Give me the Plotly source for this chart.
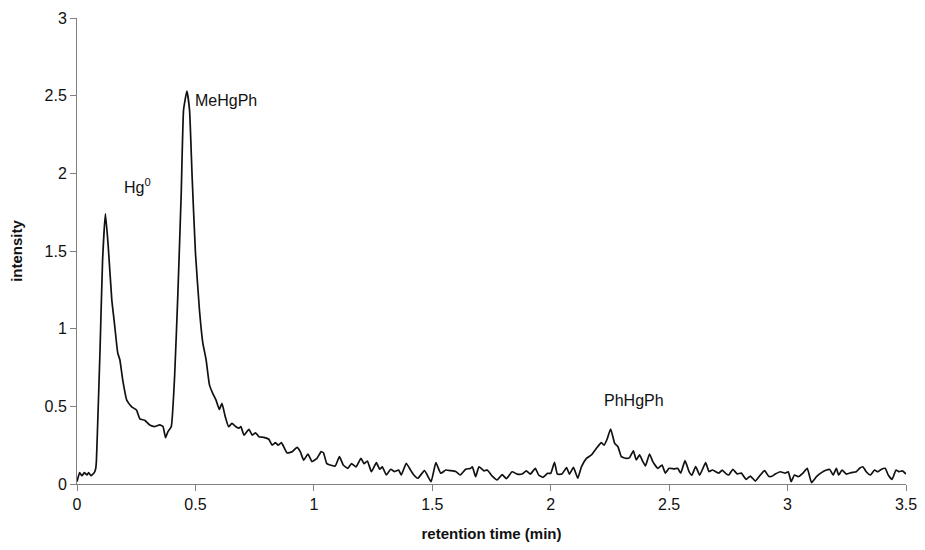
import plotly.graph_objects as go

retention_time = [
    0.000, 0.011, 0.021, 0.031, 0.042, 0.049, 0.059, 0.073, 0.079, 0.082, 0.088, 0.097, 0.108, 0.120,
    0.132, 0.147, 0.158, 0.172, 0.181, 0.193, 0.210, 0.231, 0.251, 0.265, 0.286, 0.307, 0.328, 0.349,
    0.363, 0.374, 0.384, 0.398, 0.412, 0.426, 0.440, 0.450, 0.464, 0.475, 0.486, 0.500, 0.517, 0.531,
    0.545, 0.559, 0.573, 0.587, 0.601, 0.612, 0.626, 0.640, 0.654, 0.671, 0.684, 0.692, 0.705, 0.726,
    0.740, 0.754, 0.768, 0.789, 0.810, 0.824, 0.838, 0.849, 0.863, 0.887, 0.908, 0.929, 0.943, 0.957,
    0.975, 0.992, 1.013, 1.031, 1.041, 1.054, 1.069, 1.090, 1.108, 1.124, 1.143, 1.159, 1.178, 1.199,
    1.212, 1.226, 1.243, 1.264, 1.278, 1.289, 1.306, 1.324, 1.341, 1.358, 1.369, 1.390, 1.408, 1.422,
    1.439, 1.467, 1.495, 1.515, 1.536, 1.557, 1.578, 1.599, 1.618, 1.641, 1.660, 1.669, 1.683, 1.697,
    1.718, 1.732, 1.753, 1.774, 1.795, 1.813, 1.837, 1.858, 1.879, 1.897, 1.914, 1.935, 1.949, 1.967,
    1.987, 2.000, 2.016, 2.028, 2.047, 2.067, 2.079, 2.096, 2.114, 2.130, 2.151, 2.172, 2.193, 2.214,
    2.225, 2.238, 2.253, 2.270, 2.284, 2.298, 2.319, 2.333, 2.349, 2.361, 2.375, 2.389, 2.400, 2.417,
    2.431, 2.452, 2.470, 2.484, 2.500, 2.521, 2.536, 2.549, 2.567, 2.584, 2.596, 2.612, 2.629, 2.654,
    2.668, 2.682, 2.696, 2.710, 2.724, 2.741, 2.752, 2.769, 2.787, 2.805, 2.825, 2.843, 2.864, 2.885,
    2.903, 2.920, 2.934, 2.948, 2.969, 2.990, 3.003, 3.015, 3.029, 3.045, 3.064, 3.083, 3.101, 3.122,
    3.143, 3.164, 3.178, 3.192, 3.206, 3.216, 3.230, 3.248, 3.269, 3.290, 3.304, 3.318, 3.332, 3.350,
    3.367, 3.381, 3.395, 3.412, 3.425, 3.441, 3.458, 3.471, 3.485, 3.500,
]

intensity = [
    0.015, 0.073, 0.053, 0.073, 0.058, 0.073, 0.053, 0.073, 0.100, 0.150, 0.420, 0.850, 1.440, 1.740,
    1.527, 1.184, 1.036, 0.843, 0.800, 0.670, 0.540, 0.497, 0.476, 0.420, 0.410, 0.380, 0.370, 0.380,
    0.370, 0.298, 0.337, 0.369, 0.690, 1.230, 1.870, 2.410, 2.530, 2.410, 1.980, 1.490, 1.120, 0.910,
    0.800, 0.640, 0.584, 0.540, 0.480, 0.519, 0.433, 0.369, 0.390, 0.369, 0.360, 0.369, 0.315, 0.352,
    0.315, 0.330, 0.304, 0.300, 0.288, 0.250, 0.266, 0.250, 0.266, 0.200, 0.207, 0.236, 0.207, 0.154,
    0.193, 0.144, 0.165, 0.208, 0.200, 0.133, 0.122, 0.116, 0.176, 0.122, 0.101, 0.131, 0.110, 0.165,
    0.131, 0.148, 0.079, 0.137, 0.095, 0.110, 0.058, 0.095, 0.080, 0.090, 0.058, 0.133, 0.090, 0.058,
    0.037, 0.086, 0.015, 0.137, 0.069, 0.090, 0.086, 0.080, 0.058, 0.095, 0.100, 0.110, 0.047, 0.111,
    0.085, 0.090, 0.051, 0.026, 0.060, 0.034, 0.079, 0.064, 0.064, 0.085, 0.064, 0.101, 0.058, 0.043,
    0.069, 0.069, 0.140, 0.064, 0.064, 0.105, 0.064, 0.107, 0.037, 0.112, 0.165, 0.187, 0.230, 0.266,
    0.250, 0.288, 0.354, 0.262, 0.240, 0.176, 0.165, 0.170, 0.214, 0.155, 0.187, 0.144, 0.116, 0.193,
    0.144, 0.101, 0.122, 0.070, 0.101, 0.097, 0.101, 0.070, 0.150, 0.080, 0.057, 0.112, 0.057, 0.137,
    0.080, 0.090, 0.080, 0.070, 0.090, 0.065, 0.058, 0.095, 0.065, 0.070, 0.030, 0.051, 0.019, 0.058,
    0.086, 0.050, 0.050, 0.064, 0.079, 0.070, 0.079, 0.015, 0.058, 0.047, 0.069, 0.101, 0.009, 0.047,
    0.073, 0.090, 0.094, 0.058, 0.100, 0.058, 0.090, 0.064, 0.073, 0.079, 0.101, 0.111, 0.079, 0.058,
    0.090, 0.079, 0.094, 0.101, 0.058, 0.030, 0.090, 0.079, 0.085, 0.064,
]

peak_labels = ["Hg<sup>0</sup>", "MeHgPh", "PhHgPh"]
label_x = [0.19, 0.488, 2.215]
label_y = [1.92, 2.47, 0.54]

x_ticks = [0, 0.5, 1, 1.5, 2, 2.5, 3, 3.5]
x_tick_text = ["0", "0.5", "1", "1.5", "2", "2.5", "3", "3.5"]
y_ticks = [0, 0.5, 1, 1.5, 2, 2.5, 3]
y_tick_text = ["0", "0.5", "1", "1.5", "2", "2.5", "3"]

FONT = "Liberation Sans, Arial, sans-serif"

fig = go.Figure()
fig.add_trace(go.Scatter(
    x=retention_time, y=intensity, mode="lines",
    line=dict(color="#111111", width=1.7, shape="spline", smoothing=0.4),
    showlegend=False, hoverinfo="skip",
))

for t, x, y in zip(peak_labels, label_x, label_y):
    fig.add_annotation(x=x, y=y, text=t, showarrow=False, xanchor="left", yanchor="middle",
                       font=dict(family=FONT, size=16, color="#111111"))

# the page body adds an 8px offset; size and margins compensate for it
fig.update_layout(
    width=925, height=534,
    margin=dict(l=69, r=27, t=10, b=58),
    paper_bgcolor="white", plot_bgcolor="white",
    font=dict(family=FONT, size=16, color="#111111"),
)
fig.update_xaxes(
    range=[0, 3.5], tickvals=x_ticks, ticktext=x_tick_text, automargin=False,
    ticklabeloverflow="allow",
    showgrid=False, zeroline=False, showline=True, linecolor="#808080", linewidth=1,
    ticks="outside", ticklen=6, tickcolor="#808080",
    title=dict(text="<b>retention time (min)</b>", font=dict(size=15), standoff=19),
)
fig.update_yaxes(
    range=[0, 3], tickvals=y_ticks, ticktext=y_tick_text, automargin=False,
    ticklabeloverflow="allow",
    showgrid=False, zeroline=False, showline=True, linecolor="#808080", linewidth=1,
    ticks="outside", ticklen=6, tickcolor="#808080",
    title=dict(text="<b>intensity</b>", font=dict(size=15), standoff=24),
)

fig.write_html("out.html")
